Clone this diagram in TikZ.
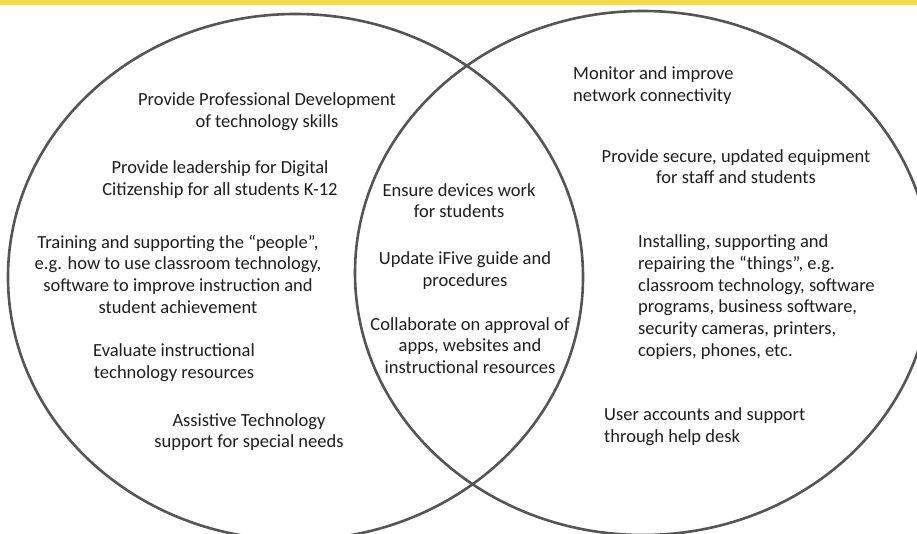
\documentclass[tikz,border=0pt]{standalone}
\usepackage{fontspec}
\setmainfont{Carlito}
\usetikzlibrary{shapes.geometric}
\definecolor{bandyellow}{RGB}{246,218,78}
\definecolor{ringgray}{RGB}{85,85,85}
\definecolor{txt}{RGB}{30,30,30}
\tikzset{
  ring/.style={ellipse, draw=ringgray, line width=2.6pt, inner sep=0pt},
  lbl/.style={inner sep=0pt, text=txt, font=\fontsize{18.5}{21.7}\selectfont},
  lblc/.style={lbl, align=center},
  lbll/.style={lbl, align=left, anchor=west},
}
\begin{document}
\begin{tikzpicture}[x=1pt,y=-1pt]
\useasboundingbox (0,0) rectangle (917,533);
\clip (0,0) rectangle (917,533);
\fill[white] (0,0) rectangle (917,533);
\fill[bandyellow] (0,0) rectangle (917,5);
\node[ring, minimum width=575pt, minimum height=526pt] (leftring) at (295.5,277) {};
\node[ring, minimum width=576pt, minimum height=524pt] (rightring) at (643,273) {};
% left
\node[lblc] (pd) at (267,111.5) {Provide Professional Development\\of technology skills};
\node[lblc] (dc) at (220,179.5) {Provide leadership for Digital\\Citizenship for all students K-12};
\node[lblc] (tr) at (178,274) {Training and supporting the “people”,\\e.g. how to use classroom technology,\\software to improve instruction and\\student achievement};
\node[lblc] (ev) at (174,363) {Evaluate instructional\\technology resources};
\node[lblc] (at) at (249,432) {Assistive Technology\\support for special needs};
% middle
\node[lblc] (ed) at (459,200.5) {Ensure devices work\\for students};
\node[lblc] (ui) at (465,270.5) {Update iFive guide and\\procedures};
\node[lblc] (co) at (470,345.5) {Collaborate on approval of\\apps, websites and\\instructional resources};
% right
\node[lbll] (mn) at (573,85.5) {Monitor and improve\\network connectivity};
\node[lblc] (ps) at (736,166.5) {Provide secure, updated equipment\\for staff and students};
\node[lbll] (in) at (638,297) {Installing, supporting and\\repairing the “things”, e.g.\\classroom technology, software\\programs, business software,\\security cameras, printers,\\copiers, phones, etc.};
\node[lbll] (ua) at (604,427) {User accounts and support\\through help desk};
\end{tikzpicture}
\end{document}
